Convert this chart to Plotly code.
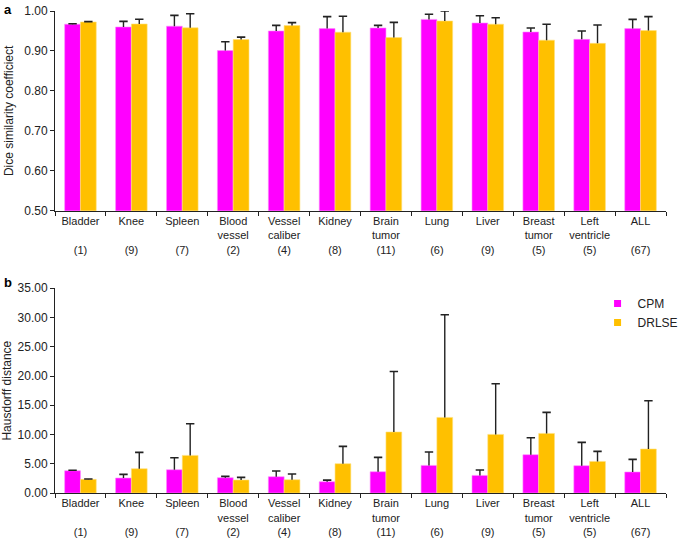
import plotly.graph_objects as go

categories = ["Bladder", "Knee", "Spleen", "Blood<br>vessel", "Vessel<br>caliber", "Kidney",
              "Brain<br>tumor", "Lung", "Liver", "Breast<br>tumor", "Left<br>ventricle", "ALL"]
counts = [1, 9, 7, 2, 4, 8, 11, 6, 9, 5, 5, 67]

dice_cpm = [0.967, 0.960, 0.962, 0.901, 0.950, 0.956, 0.9575, 0.979, 0.970, 0.9475, 0.929, 0.956]
dice_cpm_err = [0.001, 0.014, 0.027, 0.022, 0.014, 0.030, 0.0065, 0.013, 0.018, 0.010, 0.021, 0.023]
dice_drlse = [0.9725, 0.9675, 0.958, 0.9285, 0.9635, 0.947, 0.9335, 0.975, 0.967, 0.927, 0.919, 0.951]
dice_drlse_err = [0.001, 0.012, 0.035, 0.006, 0.0075, 0.040, 0.038, 0.025, 0.016, 0.040, 0.046, 0.035]

hd_cpm = [3.81, 2.56, 3.98, 2.62, 2.79, 1.93, 3.64, 4.72, 3.01, 6.55, 4.67, 3.59]
hd_cpm_err = [0.08, 0.62, 2.05, 0.22, 0.97, 0.27, 2.45, 2.30, 0.92, 2.90, 3.98, 2.15]
hd_drlse = [2.33, 4.15, 6.43, 2.22, 2.27, 5.01, 10.43, 12.92, 10.02, 10.19, 5.40, 7.52]
hd_drlse_err = [0.06, 2.80, 5.40, 0.45, 0.98, 2.96, 10.35, 17.56, 8.66, 3.59, 1.71, 8.26]

series_names = ["CPM", "DRLSE"]
colors = ["#FF00FF", "#FFC000"]
edge_colors = ["#FF8CFF", "#FFE07A"]

labels = [c + ("<br>" if "<br>" in c else "<br><br>") + "(%d)" % n for c, n in zip(categories, counts)]

FONT = "Liberation Sans, Arial, sans-serif"
ERRC = "#222222"

fig = go.Figure()

panels = [
    ("x", "y", [dice_cpm, dice_drlse], [dice_cpm_err, dice_drlse_err]),
    ("x2", "y2", [hd_cpm, hd_drlse], [hd_cpm_err, hd_drlse_err]),
]

for xa, ya, vals, errs in panels:
    for k in range(2):
        fig.add_trace(go.Bar(
            x=labels, y=vals[k], xaxis=xa, yaxis=ya, name=series_names[k],
            offsetgroup=series_names[k], showlegend=False,
            marker=dict(color=colors[k], line=dict(color=edge_colors[k], width=0.6)),
            error_y=dict(type="data", symmetric=False, array=errs[k],
                         arrayminus=[0] * len(errs[k]), width=0,
                         color=ERRC, thickness=1.4),
            hoverinfo="skip",
        ))
    for k in range(2):
        tops = [v + e for v, e in zip(vals[k], errs[k])]
        fig.add_trace(go.Scatter(
            x=labels, y=tops, xaxis=xa, yaxis=ya, mode="markers",
            offsetgroup=series_names[k], orientation="v", showlegend=False,
            marker=dict(symbol="line-ew", size=6, color=ERRC,
                        line=dict(color=ERRC, width=1.6)),
            hoverinfo="skip",
        ))

# legend entries
for k in range(2):
    fig.add_trace(go.Scatter(
        x=[None], y=[None], xaxis="x2", yaxis="y2", mode="markers",
        name=series_names[k], offsetgroup=series_names[k], orientation="v",
        marker=dict(symbol="square", size=7, color=colors[k]),
    ))

H_TOP = 10.7
H_BOT = 47.7
plot_h = 541 - H_TOP - H_BOT
top_dom_bottom = (541 - H_BOT - 210.7) / plot_h
bot_dom_top = (541 - H_BOT - 288.3) / plot_h

xaxis_common = dict(
    showline=True, linecolor="#222", linewidth=1, ticks="outside", ticklen=4,
    tickcolor="#222", tickson="boundaries", showgrid=False, automargin=False,
    tickfont=dict(family=FONT, size=11, color="#222"),
)
yaxis_common = dict(
    showline=True, linecolor="#222", linewidth=1, ticks="outside", ticklen=4,
    tickcolor="#222", showgrid=False, zeroline=False, automargin=False,
    tickformat=".2f", tickfont=dict(family=FONT, size=12, color="#222"),
)

fig.update_layout(
    width=685, height=541,
    margin=dict(l=54.6, r=1.6, t=H_TOP, b=H_BOT),
    paper_bgcolor="white", plot_bgcolor="white",
    barmode="group", bargap=0.38, bargroupgap=0,
    scattermode="group", scattergap=0.38,
    font=dict(family=FONT, size=12, color="#222"),
    xaxis=dict(domain=[0, 1], anchor="y", **xaxis_common),
    xaxis2=dict(domain=[0, 1], anchor="y2", **xaxis_common),
    yaxis=dict(domain=[top_dom_bottom, 1], anchor="x", range=[0.5, 1.0], dtick=0.1,
               title=dict(text="Dice similarity coefficiect", standoff=8,
                          font=dict(family=FONT, size=12, color="#222")),
               **yaxis_common),
    yaxis2=dict(domain=[0, bot_dom_top], anchor="x2", range=[0, 35], dtick=5,
                title=dict(text="Hausdorff distance", standoff=8,
                           font=dict(family=FONT, size=12, color="#222")),
                **yaxis_common),
    legend=dict(x=0.888, y=(541 - H_BOT - 289) / plot_h, xanchor="left", yanchor="top",
                bgcolor="rgba(0,0,0,0)", font=dict(family=FONT, size=12, color="#222"),
                itemsizing="trace"),
    annotations=[
        dict(text="<b>a</b>", xref="paper", yref="paper", x=-54.6 / 628.8, y=(541 - H_BOT) / plot_h,
             xanchor="left", yanchor="top", showarrow=False,
             font=dict(family=FONT, size=13, color="black")),
        dict(text="<b>b</b>", xref="paper", yref="paper", x=-54.6 / 628.8,
             y=(541 - H_BOT - 273) / plot_h,
             xanchor="left", yanchor="top", showarrow=False,
             font=dict(family=FONT, size=13, color="black")),
    ],
)

fig.write_html("out.html")
